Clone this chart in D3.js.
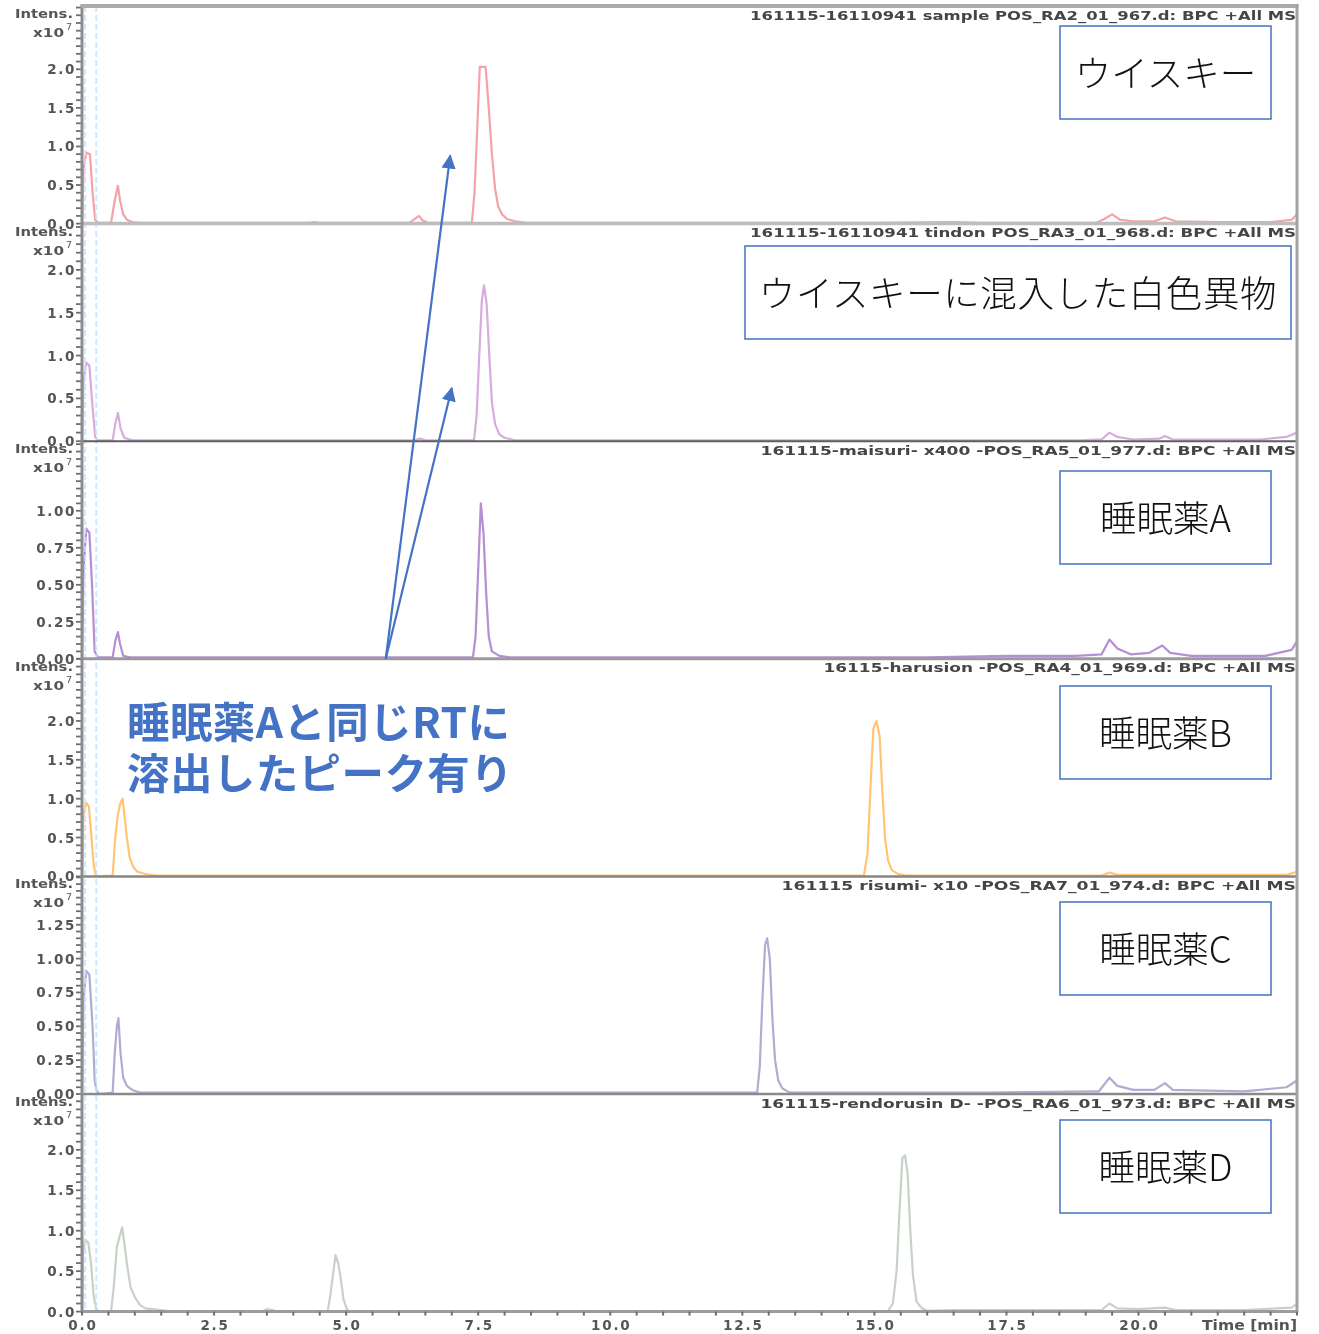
<!DOCTYPE html>
<html>
<head>
<meta charset="utf-8">
<script src="https://cdn.jsdelivr.net/npm/d3@7"></script>
<style>
  body { margin: 0; background: #fff; }
  svg { display: block; }
</style>
</head>
<body>
<svg id="chart" width="1319" height="1334"></svg>
<script>
// ---- Retention-time axis ----
const timeDomain = [0, 23];
const timeTicks = [0, 2.5, 5, 7.5, 10, 12.5, 15, 17.5, 20];
const timeMinorStep = 0.5;
const rtMarkers = [0.06, 0.27];

// ---- Per-trace headers and labels ----
const headers = [
  "161115-16110941 sample POS_RA2_01_967.d: BPC +All MS",
  "161115-16110941 tindon POS_RA3_01_968.d: BPC +All MS",
  "161115-maisuri- x400 -POS_RA5_01_977.d: BPC +All MS",
  "16115-harusion -POS_RA4_01_969.d: BPC +All MS",
  "161115 risumi- x10 -POS_RA7_01_974.d: BPC +All MS",
  "161115-rendorusin D- -POS_RA6_01_973.d: BPC +All MS"
];
const sampleLabels = [
  "ウイスキー",
  "ウイスキーに混入した白色異物",
  "睡眠薬A",
  "睡眠薬B",
  "睡眠薬C",
  "睡眠薬D"
];

// ---- Intensity axes (x10^7) ----
const intensityMax = [2.82, 2.54, 1.47, 2.80, 1.607, 2.69];
const intensityTicks = [
  [0, 0.5, 1.0, 1.5, 2.0],
  [0, 0.5, 1.0, 1.5, 2.0],
  [0, 0.25, 0.5, 0.75, 1.0],
  [0, 0.5, 1.0, 1.5, 2.0],
  [0, 0.25, 0.5, 0.75, 1.0, 1.25],
  [0, 0.5, 1.0, 1.5, 2.0]
];
const intensityDecimals = [1, 1, 2, 1, 2, 1];
const intensityMinorStep = [0.1, 0.1, 0.05, 0.1, 0.05, 0.1];

// ---- Base peak chromatograms: [time (min), intensity (x10^7)] ----
const bpcWhisky = [
  [0,0],[0.03,0.7],[0.08,0.92],[0.15,0.9],[0.2,0.4],[0.25,0.05],[0.3,0.01],
  [0.55,0.01],[0.62,0.3],[0.68,0.49],[0.72,0.3],[0.78,0.12],[0.85,0.05],[0.95,0.02],[1.1,0.01],[1.5,0.01],
  [4.3,0.01],[4.4,0.02],[4.5,0.01],[6.2,0.01],[6.3,0.06],[6.38,0.1],[6.45,0.04],[6.55,0.01],
  [7.38,0.01],[7.43,0.4],[7.48,1.2],[7.53,2.03],[7.64,2.03],[7.7,1.5],[7.76,0.9],[7.82,0.45],
  [7.88,0.22],[7.95,0.12],[8.05,0.06],[8.2,0.03],[8.4,0.01],
  [11,0.01],[15,0.01],[16.5,0.02],[17,0.01],[18,0.01],[19.2,0.01],[19.35,0.06],[19.5,0.12],
  [19.65,0.05],[19.9,0.03],[20.3,0.03],[20.5,0.08],[20.7,0.03],[21.5,0.02],[22.5,0.02],[22.9,0.05],[23,0.12]
];
const bpcWhiteMatter = [
  [0,0],[0.03,0.7],[0.08,0.92],[0.14,0.88],[0.2,0.4],[0.25,0.05],[0.3,0.01],
  [0.58,0.01],[0.63,0.2],[0.68,0.33],[0.73,0.15],[0.8,0.04],[0.95,0.01],
  [6.3,0.01],[6.4,0.03],[6.5,0.01],
  [7.42,0.01],[7.47,0.3],[7.52,1.0],[7.57,1.65],[7.61,1.82],[7.66,1.6],[7.71,1.0],[7.76,0.45],
  [7.82,0.2],[7.9,0.08],[8.0,0.04],[8.2,0.01],
  [18.9,0.01],[19.3,0.02],[19.45,0.1],[19.6,0.05],[19.9,0.02],[20.4,0.03],[20.5,0.06],[20.65,0.02],
  [22.3,0.02],[22.8,0.05],[23,0.1]
];
const bpcHypnoticA = [
  [0,0],[0.03,0.6],[0.08,0.88],[0.14,0.85],[0.19,0.5],[0.24,0.05],[0.3,0.01],
  [0.58,0.01],[0.63,0.12],[0.68,0.18],[0.72,0.1],[0.78,0.02],[0.9,0.01],
  [7.4,0.01],[7.45,0.15],[7.5,0.6],[7.55,1.05],[7.6,0.85],[7.65,0.45],[7.7,0.15],[7.76,0.05],
  [7.9,0.02],[8.1,0.01],
  [16,0.01],[17.5,0.02],[18.8,0.02],[19.3,0.03],[19.45,0.13],[19.6,0.07],[19.85,0.03],[20.2,0.04],
  [20.45,0.09],[20.6,0.04],[21,0.02],[22.4,0.02],[22.9,0.06],[23,0.12]
];
const bpcHypnoticB = [
  [0,0],[0.03,0.8],[0.08,0.95],[0.13,0.9],[0.18,0.5],[0.22,0.15],[0.26,0.02],[0.3,0],
  [0.58,0.01],[0.63,0.5],[0.68,0.8],[0.73,0.95],[0.77,1.0],[0.8,0.8],[0.85,0.5],[0.9,0.25],
  [0.97,0.12],[1.05,0.06],[1.2,0.03],[1.4,0.01],
  [14.8,0.01],[14.87,0.3],[14.93,1.2],[14.98,1.9],[15.04,2.0],[15.1,1.8],[15.15,1.1],[15.2,0.5],
  [15.26,0.2],[15.33,0.08],[15.45,0.03],[15.6,0.01],
  [19.3,0.01],[19.45,0.05],[19.6,0.02],[20.5,0.02],[22.8,0.02],[23,0.06]
];
const bpcHypnoticC = [
  [0,0],[0.03,0.7],[0.08,0.91],[0.14,0.88],[0.2,0.5],[0.24,0.1],[0.28,0.02],[0.33,0],
  [0.58,0.01],[0.62,0.3],[0.66,0.5],[0.69,0.56],[0.73,0.3],[0.78,0.12],[0.85,0.06],[0.95,0.03],[1.1,0.01],
  [12.78,0.01],[12.83,0.2],[12.88,0.7],[12.93,1.1],[12.97,1.15],[13.02,1.0],[13.07,0.55],[13.12,0.25],
  [13.18,0.1],[13.26,0.04],[13.4,0.01],
  [17.0,0.01],[19.25,0.02],[19.45,0.12],[19.6,0.06],[19.9,0.03],[20.3,0.03],[20.5,0.08],[20.65,0.03],
  [22.0,0.02],[22.8,0.05],[23,0.1]
];
const bpcHypnoticD = [
  [0,0],[0.02,0.7],[0.06,0.89],[0.12,0.85],[0.17,0.6],[0.22,0.2],[0.27,0.03],[0.32,0],
  [0.55,0],[0.6,0.3],[0.66,0.8],[0.72,0.95],[0.76,1.04],[0.8,0.85],[0.86,0.55],[0.92,0.3],
  [1.0,0.18],[1.1,0.08],[1.2,0.04],[1.5,0.02],[1.7,0],
  [3.4,0],[3.5,0.03],[3.6,0.02],[3.7,0],
  [4.65,0],[4.7,0.2],[4.75,0.45],[4.8,0.7],[4.85,0.6],[4.9,0.4],[4.95,0.15],[5.02,0.02],[5.1,0],
  [15.25,0],[15.35,0.1],[15.42,0.5],[15.48,1.3],[15.53,1.9],[15.58,1.93],[15.63,1.7],[15.68,1.0],
  [15.73,0.45],[15.8,0.12],[15.9,0.04],[16.0,0.01],
  [16.5,0.02],[17.5,0.02],[19.3,0.02],[19.45,0.1],[19.6,0.04],[20.0,0.03],[20.5,0.05],[20.7,0.02],
  [22.0,0.02],[22.9,0.05],[23,0.1]
];
const traces = [bpcWhisky, bpcWhiteMatter, bpcHypnoticA, bpcHypnoticB, bpcHypnoticC, bpcHypnoticD];

// ---- Callout ----
const calloutLines = ["睡眠薬Aと同じRTに", "溶出したピーク有り"];
// arrow start (panel 3 baseline) and tips in panels 1 and 2: [time, intensity]
const arrowFrom = [5.75, 0];
const arrowTips = [[6.97, 0.88], [7.0, 0.62]];

// ================= drawing =================
const traceColors = ["#f4a2aa", "#d7acdf", "#b68fd2", "#ffc474", "#aeadd3", "#c6d2c6"];
const baseColors = ["#bdbdbd", "#5e5e5e", "#9a9a9a", "#858585", "#8a8a8a", "#9c9c9c"];
const baseWidths = [3.5, 2, 3, 2.5, 2.5, 3];
const boxX = [1060, 745, 1060, 1060, 1060, 1060];
const boxW = [211, 546, 211, 211, 211, 211];
const boxY = [26, 246, 471, 686, 902, 1120];
const boxH = 93;

const left = 82, right = 1297;
const panelTop0 = 6, panelStep = 217.6;
const tickFont = "'DejaVu Sans', 'Liberation Sans', sans-serif";
const cjkFont = "'Noto Sans CJK JP', 'Noto Sans CJK SC', sans-serif";

const svg = d3.select("#chart");
svg.append("rect").attr("width", 1319).attr("height", 1334).attr("fill", "#fff");

const defs = svg.append("defs");
defs.append("filter").attr("id", "soft")
  .attr("x", "-5%").attr("y", "-5%").attr("width", "110%").attr("height", "110%")
  .append("feGaussianBlur").attr("stdDeviation", 0.55);
const marker = defs.append("marker").attr("id", "head")
  .attr("viewBox", "0 0 10 10").attr("refX", 9).attr("refY", 5)
  .attr("markerWidth", 6.5).attr("markerHeight", 6.5).attr("orient", "auto")
  .attr("markerUnits", "strokeWidth");
marker.append("path").attr("d", "M0,0 L10,5 L0,10 z").attr("fill", "#4472c4");

const x = d3.scaleLinear().domain(timeDomain).range([left, right]);
const chart = svg.append("g").attr("filter", "url(#soft)");

const panels = traces.map((data, i) => {
  const top = panelTop0 + i * panelStep;
  const bottom = top + panelStep;
  const y = d3.scaleLinear().domain([0, intensityMax[i]]).range([bottom, top]);
  return { i, data, top, bottom, y };
});

// traces
panels.forEach(p => {
  const line = d3.line().x(d => x(d[0])).y(d => p.y(d[1]));
  chart.append("path")
    .datum(p.data)
    .attr("d", line)
    .attr("fill", "none")
    .attr("stroke", traceColors[p.i])
    .attr("stroke-width", 2.2)
    .attr("stroke-linejoin", "round");
});

// retention-time markers
rtMarkers.forEach(t => {
  chart.append("line")
    .attr("x1", x(t)).attr("x2", x(t))
    .attr("y1", panelTop0).attr("y2", panels[5].bottom)
    .attr("stroke", "#c9e2ff").attr("stroke-width", 2)
    .attr("stroke-dasharray", "6,3").attr("opacity", 0.85);
});

// per-panel axes
panels.forEach(p => {
  const i = p.i;
  // baseline
  chart.append("line")
    .attr("x1", left - 1).attr("x2", right)
    .attr("y1", p.bottom).attr("y2", p.bottom)
    .attr("stroke", baseColors[i]).attr("stroke-width", baseWidths[i]);

  // minor intensity ticks
  const minor = d3.range(0, intensityMax[i] + 1e-9, intensityMinorStep[i]);
  chart.append("g").selectAll("line").data(minor).join("line")
    .attr("x1", left - 6).attr("x2", left)
    .attr("y1", d => p.y(d)).attr("y2", d => p.y(d))
    .attr("stroke", "#6e6e6e").attr("stroke-width", 1.8);

  // labelled ticks
  const fmt = d3.format("." + intensityDecimals[i] + "f");
  chart.append("g").selectAll("text").data(intensityTicks[i]).join("text")
    .attr("x", 76).attr("y", d => p.y(d) + 5)
    .attr("text-anchor", "end")
    .attr("font-family", tickFont).attr("font-size", 13.5).attr("font-weight", 600)
    .attr("letter-spacing", 1.6)
    .attr("fill", "#555")
    .text(d => fmt(d));

  // axis title
  chart.append("text")
    .attr("x", 15).attr("y", p.top + 12)
    .attr("font-family", tickFont).attr("font-size", 13).attr("font-weight", 600)
    .attr("textLength", 58).attr("lengthAdjust", "spacingAndGlyphs")
    .attr("fill", "#555").text("Intens.");
  chart.append("text")
    .attr("x", 33).attr("y", p.top + 31)
    .attr("font-family", tickFont).attr("font-size", 13).attr("font-weight", 600)
    .attr("textLength", 31).attr("lengthAdjust", "spacingAndGlyphs")
    .attr("fill", "#555").text("x10");
  chart.append("text")
    .attr("x", 66).attr("y", p.top + 24)
    .attr("font-family", tickFont).attr("font-size", 9.5)
    .attr("fill", "#555").text("7");

  // header
  chart.append("text")
    .attr("x", right - 1).attr("y", p.top + 13.5)
    .attr("text-anchor", "end")
    .attr("font-family", tickFont).attr("font-size", 13).attr("font-weight", 600)
    .attr("textLength", headers[i].length * 10.5)
    .attr("lengthAdjust", "spacingAndGlyphs")
    .attr("fill", "#444")
    .text(headers[i]);
});

// frame: left axis, top and right borders
chart.append("line").attr("x1", left).attr("x2", left)
  .attr("y1", panelTop0 - 2).attr("y2", panels[5].bottom + 1)
  .attr("stroke", "#8c8c8c").attr("stroke-width", 3);
chart.append("line").attr("x1", left - 1).attr("x2", right + 1.5)
  .attr("y1", panelTop0).attr("y2", panelTop0)
  .attr("stroke", "#ababab").attr("stroke-width", 4);
chart.append("line").attr("x1", right).attr("x2", right)
  .attr("y1", panelTop0 - 2).attr("y2", panels[5].bottom + 1)
  .attr("stroke", "#a3a3a3").attr("stroke-width", 3);

// time axis
const xb = panels[5].bottom;
const timeMinor = d3.range(0, timeDomain[1] + 1e-9, timeMinorStep);
chart.append("g").selectAll("line").data(timeMinor).join("line")
  .attr("x1", d => x(d)).attr("x2", d => x(d))
  .attr("y1", xb).attr("y2", xb + 4)
  .attr("stroke", "#6e6e6e").attr("stroke-width", 2);
chart.append("g").selectAll("text").data(timeTicks).join("text")
  .attr("x", d => x(d) + 1).attr("y", xb + 18)
  .attr("text-anchor", "middle")
  .attr("font-family", tickFont).attr("font-size", 13.5).attr("font-weight", 600)
  .attr("letter-spacing", 1.8)
  .attr("fill", "#555")
  .text(d => d3.format(".1f")(d));
chart.append("text")
  .attr("x", right).attr("y", xb + 18)
  .attr("text-anchor", "end")
  .attr("font-family", tickFont).attr("font-size", 13.5).attr("font-weight", 600)
  .attr("textLength", 95).attr("lengthAdjust", "spacingAndGlyphs")
  .attr("fill", "#555")
  .text("Time [min]");

// sample label boxes
panels.forEach(p => {
  const i = p.i;
  svg.append("rect")
    .attr("x", boxX[i]).attr("y", boxY[i])
    .attr("width", boxW[i]).attr("height", boxH)
    .attr("fill", "#fff").attr("stroke", "#4472c4").attr("stroke-width", 1.5);
  svg.append("text")
    .attr("x", boxX[i] + boxW[i] / 2).attr("y", boxY[i] + boxH / 2 - 1)
    .attr("text-anchor", "middle").attr("dominant-baseline", "central")
    .attr("font-family", cjkFont).attr("font-size", 36.5).attr("font-weight", 300)
    .attr("letter-spacing", i === 1 ? 0.6 : 0)
    .attr("fill", "#111")
    .text(sampleLabels[i]);
});

// callout arrows
const p3 = panels[2];
arrowTips.forEach((tip, k) => {
  const py = panels[k].y;
  svg.append("line")
    .attr("x1", x(arrowFrom[0])).attr("y1", p3.y(arrowFrom[1]))
    .attr("x2", x(tip[0])).attr("y2", py(tip[1]))
    .attr("stroke", "#4472c4").attr("stroke-width", 2.2)
    .attr("marker-end", "url(#head)");
});

// callout text
calloutLines.forEach((s, k) => {
  svg.append("text")
    .attr("x", 127).attr("y", 719 + k * 51)
    .attr("dominant-baseline", "central")
    .attr("font-family", cjkFont).attr("font-size", 42.5).attr("font-weight", 700)
    .attr("letter-spacing", 0.4)
    .attr("fill", "#4472c4")
    .text(s);
});
</script>
</body>
</html>
